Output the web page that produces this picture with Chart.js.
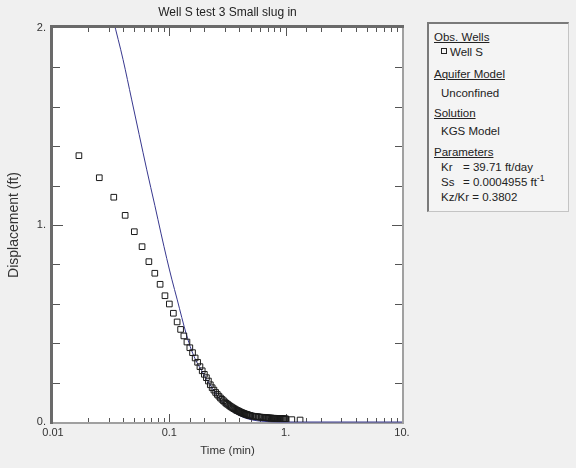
<!DOCTYPE html>
<html>
<head>
<meta charset="utf-8">
<script src="https://cdn.jsdelivr.net/npm/chart.js@4"></script>
<style>
  body { margin: 0; background: #f0f0f0; }
  #quadro { position: relative; width: 576px; height: 468px; }
  #legenda {
    position: absolute; left: 427px; top: 22px; width: 142px; height: 190px;
    box-sizing: border-box; background: #f4f4f4;
    border-left: 2px solid #7a7a7a; border-top: 2px solid #7a7a7a;
    border-right: 1px solid #c4c4c4; border-bottom: 1px solid #c4c4c4;
    font: 11.5px "Liberation Sans", Arial, sans-serif; color: #222;
  }
  #legenda div { position: absolute; white-space: nowrap; line-height: 14px; }
  #legenda .cab { left: 5px; text-decoration: underline; }
  #legenda .item { left: 12px; }
  #legenda .quad { display: inline-block; width: 4px; height: 4px; border: 1px solid #222; margin-right: 3px; vertical-align: 2px; }
  #legenda sup { font-size: 8.5px; line-height: 0; vertical-align: 5px; }
</style>
</head>
<body>
<div id="quadro">
  <canvas id="grafico"></canvas>
  <div id="legenda">
    <div class="cab" style="top:6px">Obs. Wells</div>
    <div class="item" style="top:21px"><span class="quad"></span>Well S</div>
    <div class="cab" style="top:43px">Aquifer Model</div>
    <div class="item" style="top:62px">Unconfined</div>
    <div class="cab" style="top:82px">Solution</div>
    <div class="item" style="top:100px">KGS Model</div>
    <div class="cab" style="top:121px">Parameters</div>
    <div class="item" style="top:136px">Kr</div><div style="left:34px;top:136px">= 39.71 ft/day</div>
    <div class="item" style="top:151px">Ss</div><div style="left:34px;top:151px">= 0.0004955 ft<sup>-1</sup></div>
    <div class="item" style="top:166px">Kz/Kr = 0.3802</div>
  </div>
</div>
<script>
// Dados observados (poço S) - tempo em min, deslocamento em ft
const tempoObs = [
  0.0167, 0.025, 0.0333, 0.0417, 0.05, 0.0583, 0.0667, 0.075, 0.0833, 0.0917,
  0.1, 0.1083, 0.1167, 0.125, 0.1333, 0.1417, 0.15, 0.1583, 0.1667, 0.175,
  0.1833, 0.1917, 0.2, 0.2083, 0.2167, 0.225, 0.2333, 0.2417, 0.25, 0.2583,
  0.2667, 0.275, 0.2833, 0.2917, 0.3, 0.3083, 0.3167, 0.325, 0.3333, 0.3417,
  0.35, 0.3583, 0.3667, 0.375, 0.3833, 0.3917, 0.4, 0.4083, 0.4167, 0.425,
  0.4333, 0.4417, 0.45, 0.4583, 0.4667, 0.475, 0.4833, 0.4917, 0.5,
  0.5167, 0.5333, 0.55, 0.5667, 0.5833, 0.6, 0.6167, 0.6333, 0.65, 0.6667,
  0.6833, 0.7, 0.7167, 0.7333, 0.75, 0.7667, 0.7833, 0.8, 0.8167, 0.8333,
  0.85, 0.8667, 0.8833, 0.9, 0.9167, 0.9333, 0.95, 0.9667, 0.9833, 1.0,
  1.13, 1.33
];
const deslocObs = [
  1.352, 1.240, 1.141, 1.049, 0.966, 0.890, 0.814, 0.755, 0.699, 0.641,
  0.599, 0.552, 0.508, 0.470, 0.437, 0.406, 0.377, 0.352, 0.325, 0.303,
  0.281, 0.260, 0.242, 0.225, 0.208, 0.189, 0.174, 0.162, 0.150, 0.140,
  0.131, 0.122, 0.115, 0.108, 0.101, 0.095, 0.090, 0.085, 0.080, 0.076,
  0.072, 0.068, 0.065, 0.061, 0.058, 0.056, 0.053, 0.050, 0.048, 0.046,
  0.044, 0.042, 0.040, 0.039, 0.037, 0.036, 0.034, 0.033, 0.032,
  0.030, 0.029, 0.028, 0.027, 0.026, 0.025, 0.024, 0.024, 0.023, 0.022,
  0.022, 0.021, 0.021, 0.020, 0.020, 0.019, 0.019, 0.019, 0.018, 0.018,
  0.018, 0.017, 0.017, 0.017, 0.017, 0.016, 0.016, 0.016, 0.016, 0.016,
  0.012, 0.010
];

// Curva do modelo KGS
const tempoModelo = [0.033, 0.04, 0.0475, 0.055, 0.064, 0.075, 0.085, 0.095, 0.105, 0.117,
  0.128, 0.14, 0.155, 0.17, 0.19, 0.21, 0.235, 0.26, 0.29, 0.33, 0.38, 0.44, 0.52, 0.62, 0.75, 0.9, 10];
const deslocModelo = [2.04, 1.84, 1.635, 1.46, 1.28, 1.10, 0.955, 0.83, 0.725, 0.62,
  0.53, 0.445, 0.365, 0.31, 0.26, 0.215, 0.17, 0.13, 0.097, 0.065, 0.04, 0.022, 0.01, 0.004, 0.001, 0, 0];

// Rótulos dos eixos
const valoresRotuloX = [0.01, 0.1, 1, 10];
const rotulosX = ['0.01', '0.1', '1.', '10.'];
const valoresRotuloY = [0, 1, 2];
const rotulosY = ['0.', '1.', '2.'];

Chart.defaults.font.family = '"Liberation Sans", Arial, sans-serif';
Chart.defaults.color = '#222';

function acharRotulo(valor, valores, rotulos) {
  const i = valores.findIndex(v => Math.abs(valor - v) <= Math.max(v, 1) * 1e-6);
  return i >= 0 ? rotulos[i] : '';
}

// Moldura da área do gráfico e marcas internas dos eixos
const molduraEMarcas = {
  id: 'molduraEMarcas',
  beforeDatasetsDraw(chart) {
    const { ctx, chartArea: a, scales } = chart;
    ctx.save();
    ctx.fillStyle = '#ffffff';
    ctx.fillRect(a.left, a.top, a.right - a.left, a.bottom - a.top);
    ctx.fillStyle = '#a0a0a0';
    ctx.fillRect(a.right, a.top - 3, 2, a.bottom - a.top + 5);
    ctx.fillRect(a.left - 3, a.bottom, a.right - a.left + 5, 2);
    ctx.fillStyle = '#6a6a6a';
    ctx.fillRect(a.left - 3, a.top - 3, 3, a.bottom - a.top + 5);
    ctx.fillRect(a.left - 3, a.top - 3, a.right - a.left + 5, 3);

    ctx.strokeStyle = '#555';
    ctx.lineWidth = 1;
    ctx.beginPath();
    scales.x.ticks.forEach(t => {
      const px = Math.round(scales.x.getPixelForValue(t.value)) + 0.5;
      if (px < a.left + 2 || px > a.right - 2) return;
      const lg = Math.log10(t.value);
      const len = Math.abs(lg - Math.round(lg)) < 1e-6 ? 8 : 4;
      ctx.moveTo(px, a.bottom); ctx.lineTo(px, a.bottom - len);
      ctx.moveTo(px, a.top); ctx.lineTo(px, a.top + len);
    });
    scales.y.ticks.forEach(t => {
      const py = Math.round(scales.y.getPixelForValue(t.value)) + 0.5;
      if (py < a.top + 2 || py > a.bottom - 2) return;
      const len = Math.abs(t.value - 1) < 1e-6 ? 10 : 7;
      ctx.moveTo(a.left, py); ctx.lineTo(a.left + len, py);
      ctx.moveTo(a.right, py); ctx.lineTo(a.right - len, py);
    });
    ctx.stroke();
    ctx.restore();
  }
};

const contexto = document.getElementById('grafico').getContext('2d');
const grafico = new Chart(contexto, {
  type: 'scatter',
  data: {
    datasets: [
      {
        label: 'Well S',
        data: tempoObs.map((t, i) => ({ x: t, y: deslocObs[i] })),
        pointStyle: 'rect',
        pointRadius: 4,
        pointBorderWidth: 1,
        pointBorderColor: '#1a1a1a',
        pointBackgroundColor: 'rgba(255,255,255,0)',
        showLine: false
      },
      {
        label: 'KGS Model',
        data: tempoModelo.map((t, i) => ({ x: t, y: deslocModelo[i] })),
        showLine: true,
        borderColor: '#38388f',
        borderWidth: 1,
        pointRadius: 0,
        cubicInterpolationMode: 'monotone',
        clip: { left: 0, top: 0, right: 0, bottom: 2 }
      }
    ]
  },
  options: {
    responsive: true,
    maintainAspectRatio: false,
    animation: false,
    events: [],
    layout: { padding: { left: 0, right: 174, top: 0, bottom: 0 } },
    plugins: {
      legend: { display: false },
      tooltip: { enabled: false },
      title: {
        display: true,
        text: 'Well S test 3 Small slug in',
        fullSize: false,
        color: '#222',
        font: { size: 12, weight: 'normal', lineHeight: 1.2 },
        padding: { top: 5, bottom: 8.6 }
      }
    },
    scales: {
      x: {
        type: 'logarithmic',
        min: 0.01,
        max: 10,
        grid: { display: false, drawTicks: false },
        border: { display: false },
        ticks: {
          autoSkip: false,
          maxRotation: 0,
          padding: 4,
          color: '#333',
          font: { size: 11 },
          callback: v => acharRotulo(v, valoresRotuloX, rotulosX)
        },
        title: { display: true, text: 'Time (min)', color: '#333', font: { size: 11.5 }, padding: { top: 2, bottom: 10 } },
        afterFit: s => { s.height = 46; }
      },
      y: {
        min: 0,
        max: 2,
        grid: { display: false, drawTicks: false },
        border: { display: false },
        ticks: {
          stepSize: 0.2,
          autoSkip: false,
          padding: 7,
          color: '#333',
          font: { size: 11 },
          callback: v => acharRotulo(v, valoresRotuloY, rotulosY)
        },
        title: { display: true, text: 'Displacement (ft)', color: '#333', font: { size: 14 }, padding: { top: 6, bottom: 2 } },
        afterFit: s => { s.width = 53; }
      }
    }
  },
  plugins: [molduraEMarcas]
});
</script>
</body>
</html>
